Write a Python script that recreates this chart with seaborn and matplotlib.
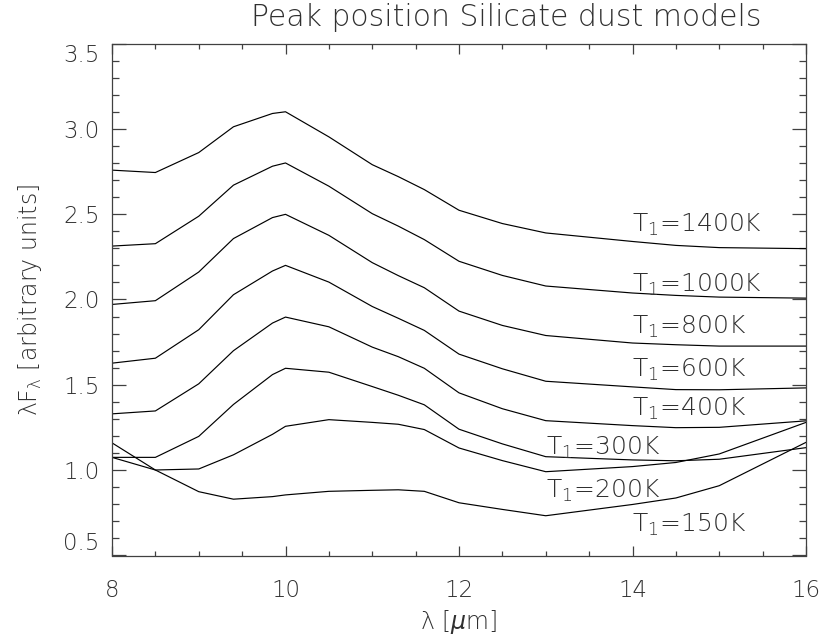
import matplotlib
matplotlib.use("Agg")
import matplotlib.pyplot as plt
import numpy as np
import pandas as pd
import seaborn as sns

# Wavelength grid (micron)
wavelength = [8.0, 8.5, 9.0, 9.4, 9.85, 10.0, 10.5, 11.0, 11.3, 11.6,
              12.0, 12.5, 13.0, 14.0, 14.5, 15.0, 16.0]

# Model SEDs (lambda F_lambda, arbitrary units) for each inner dust temperature
sed_1400 = [2.758, 2.744, 2.861, 3.012, 3.090, 3.100, 2.953, 2.790, 2.720, 2.644,
            2.523, 2.445, 2.390, 2.340, 2.317, 2.304, 2.298]
sed_1000 = [2.313, 2.327, 2.488, 2.670, 2.781, 2.800, 2.664, 2.503, 2.430, 2.351,
            2.224, 2.141, 2.079, 2.038, 2.024, 2.014, 2.008]
sed_800 = [1.971, 1.993, 2.161, 2.357, 2.480, 2.499, 2.376, 2.216, 2.140, 2.069,
           1.932, 1.848, 1.789, 1.745, 1.735, 1.727, 1.727]
sed_600 = [1.627, 1.656, 1.823, 2.028, 2.167, 2.200, 2.102, 1.959, 1.890, 1.819,
           1.680, 1.594, 1.521, 1.488, 1.472, 1.471, 1.482]
sed_400 = [1.330, 1.347, 1.506, 1.700, 1.862, 1.897, 1.840, 1.721, 1.665, 1.597,
           1.453, 1.360, 1.290, 1.261, 1.249, 1.251, 1.289]
sed_300 = [1.075, 1.075, 1.198, 1.385, 1.560, 1.597, 1.574, 1.490, 1.439, 1.383,
           1.240, 1.154, 1.079, 1.060, 1.055, 1.064, 1.132]
sed_200 = [1.075, 1.001, 1.007, 1.090, 1.210, 1.257, 1.296, 1.280, 1.269, 1.238,
           1.130, 1.056, 0.991, 1.021, 1.045, 1.095, 1.280]
sed_150 = [1.160, 1.001, 0.874, 0.830, 0.845, 0.855, 0.876, 0.882, 0.885, 0.876,
           0.809, 0.770, 0.733, 0.799, 0.837, 0.909, 1.163]

temperatures = ["1400K", "1000K", "800K", "600K", "400K", "300K", "200K", "150K"]
series = [sed_1400, sed_1000, sed_800, sed_600, sed_400, sed_300, sed_200, sed_150]

# Curve annotations: (x, y) anchor of each "T1=..." text
label_x = [14.0, 14.0, 14.0, 14.0, 14.0, 13.0, 13.0, 14.0]
label_y = [2.396, 2.043, 1.799, 1.549, 1.320, 1.091, 0.840, 0.641]

x_ticks = [8, 10, 12, 14, 16]
y_ticks = [0.5, 1.0, 1.5, 2.0, 2.5, 3.0, 3.5]

frame = pd.concat(
    [pd.DataFrame({"wavelength": wavelength, "flux": s, "T1": t})
     for s, t in zip(series, temperatures)],
    ignore_index=True,
)

sns.set_theme(style="ticks")
plt.rcParams["font.family"] = ["DejaVu Sans"]
plt.rcParams["mathtext.fontset"] = "dejavusans"

W, H = 825, 644
fig = plt.figure(figsize=(W / 100, H / 100), dpi=100)
ax = fig.add_axes([112 / W, 1 - 555.5 / H, (806 - 112) / W, (555.5 - 43.5) / H])

sns.lineplot(data=frame, x="wavelength", y="flux", hue="T1",
             palette=["black"] * len(temperatures), estimator=None,
             sort=False, legend=False, linewidth=0.85, ax=ax)

ax.set_xlim(8, 16)
ax.set_ylim(0.5, 3.5)
ax.set_xticks(x_ticks)
ax.set_xticks(np.arange(8, 16.01, 0.5), minor=True)
ax.set_yticks(y_ticks)
ax.set_yticks(np.arange(0.5, 3.501, 0.1), minor=True)
ax.set_xticklabels([f"{v:d}" for v in x_ticks])
ax.set_yticklabels([f"{v:.1f}" for v in y_ticks])

txt_color = "#303030"
for s in ax.spines.values():
    s.set_color("#404040")
    s.set_linewidth(0.9)
ax.tick_params(axis="both", which="both", direction="in", top=True, right=True,
               color="#404040", width=0.9, labelcolor=txt_color)
ax.tick_params(axis="y", which="major", length=10.0, labelsize=16.5, pad=9)
ax.tick_params(axis="y", which="minor", length=5.0)
ax.tick_params(axis="x", which="major", length=7.3, labelsize=16.5, pad=17)
ax.tick_params(axis="x", which="minor", length=3.7)
for lab in ax.get_xticklabels() + ax.get_yticklabels():
    lab.set_fontweight("light")
# end labels of the y axis sit inside the axis range
ylabels = ax.get_yticklabels()
ylabels[0].set_verticalalignment("bottom")
ylabels[-1].set_verticalalignment("top")

ax.set_xlabel(r"λ [$\mu$m]", fontsize=17, color=txt_color, labelpad=4,
              fontweight="light")
ax.set_ylabel(r"$\mathregular{λF_λ}$ [arbitrary units]", fontsize=17,
              color=txt_color, labelpad=14, fontweight="light")

for t, x, y in zip(temperatures, label_x, label_y):
    ax.text(x, y, r"T$_\mathregular{1}$=" + t, fontsize=18, color=txt_color,
            ha="left", va="baseline", fontweight="light")

fig.text(506 / W, 1 - 17 / H, "Peak position Silicate dust models",
         ha="center", va="center", fontsize=21.5, color=txt_color,
         fontweight="light")

fig.savefig("out.png", dpi=100, facecolor="white")
